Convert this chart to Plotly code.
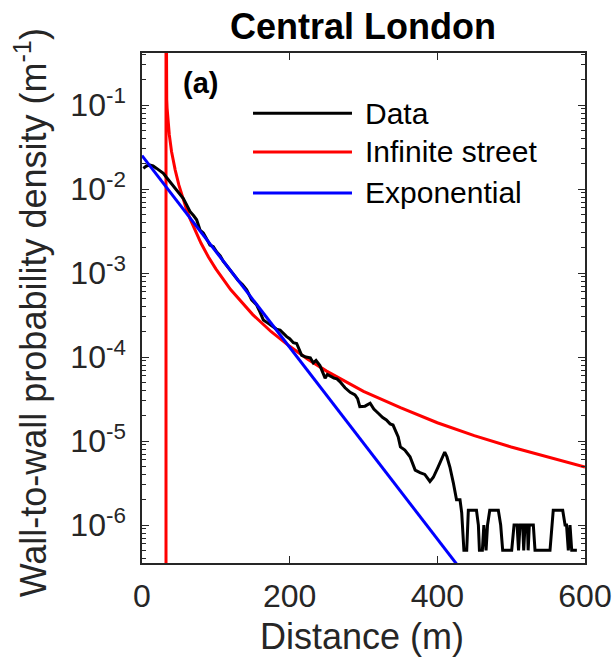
import plotly.graph_objects as go

# ---------------- data ----------------
data_d = [1.8, 6, 10.8, 15, 19.9, 24, 28.9, 33, 37.9, 42, 47, 51.5, 56, 60, 65, 70, 74,
          78.6, 83, 88, 92, 96.6, 101, 106, 110, 114, 119, 124, 130, 136, 141.8, 148.5,
          155, 160, 164.4, 170, 176, 182, 187, 191.4, 196, 200, 205, 209.5, 213, 216.3,
          222, 228, 232, 235.7, 241, 245, 248, 251, 254.6, 260, 264, 268, 275, 282,
          288.5, 292, 295, 302, 309, 314, 320, 326, 331, 336, 340, 344, 347, 350, 356,
          363, 370, 376.5, 383, 390, 394.6, 401, 408, 410, 413, 417, 421.6, 426, 430.7,
          433, 436, 439.8, 442, 453, 455.6, 457, 461, 463, 466, 468, 471, 482.6, 485.8,
          488.5, 500.7, 503.9, 508, 510, 512, 515.6, 517, 518.8, 522, 523, 524.6, 530,
          532.3, 552.6, 557, 569.8, 573, 575, 577.4, 579.7, 582, 589]
data_p = [0.0176, 0.0188, 0.0193, 0.0188, 0.0176, 0.0166, 0.0154, 0.0138, 0.0122, 0.0109,
          0.0097, 0.0087, 0.0077, 0.0066, 0.0054, 0.0048, 0.0043,
          0.00325, 0.0030, 0.00250, 0.00215, 0.00206, 0.00179, 0.00160, 0.00138, 0.00125,
          0.00109, 0.00096, 0.00082, 0.00073, 0.00063, 0.00048,
          0.00042, 0.00034, 0.000275, 0.000255, 0.000232, 0.000215, 0.000209, 0.00019,
          0.000175, 0.000165, 0.000148, 0.000145, 0.00012, 0.000105,
          0.0001, 0.000098, 0.000085, 0.000091, 0.000079, 0.000065, 0.000056, 0.000062,
          0.000059, 0.000056, 0.000055, 0.000051, 0.000043, 0.000038,
          3.55e-5, 3.2e-5, 2.57e-5, 2.6e-5, 2.82e-5, 2.4e-5, 2.14e-5, 1.9e-5, 1.78e-5,
          1.6e-5, 1.55e-5, 1.3e-5, 1.12e-5, 8.5e-6, 7.8e-6,
          6.5e-6, 4.5e-6, 4.2e-6, 4.0e-6, 3.3e-6, 3.7e-6, 4.9e-6, 7.0e-6, 7.4e-6, 6.5e-6,
          4.9e-6, 3.2e-6, 2.0e-6, 2.0e-6,
          1.4e-6, 5e-7, 5e-7, 1.5e-6, 1.5e-6, 1e-6, 5e-7, 5e-7, 1e-6, 5e-7, 1e-6, 1.5e-6,
          1.5e-6, 1e-6,
          5e-7, 5e-7, 1e-6, 1e-6, 5e-7, 1e-6, 1e-6, 5e-7, 1e-6, 1e-6, 5e-7, 1e-6, 1e-6,
          5e-7, 5e-7, 1.5e-6, 1.5e-6, 1e-6, 1e-6, 5e-7, 1e-6, 5e-7, 5e-7]

street_d = [32.5, 32.5, 32.6, 33, 33.5, 34, 35, 36, 37, 40, 42, 45, 50, 55, 60, 65, 70, 80,
            90, 100, 120, 150, 175, 200, 225, 250, 300, 350, 400, 450, 500, 550, 600]
street_p = [1e-9, 10.0, 0.39, 0.17, 0.116, 0.092, 0.066, 0.0526, 0.044, 0.028, 0.0225,
            0.0168, 0.0111, 0.00787, 0.0058, 0.00444, 0.0035, 0.00226, 0.00155, 0.00112,
            0.000635, 0.00032, 0.0002, 0.000134, 9.37e-5, 6.8e-5, 3.9e-5, 2.5e-5, 1.65e-5,
            1.16e-5, 8.5e-6, 6.4e-6, 4.9e-6]

expo_d = [0, 430]
expo_p = [0.025, 3.1e-7]

x_ticks = [0, 200, 400, 600]
y_ticks = [1e-6, 1e-5, 1e-4, 1e-3, 1e-2, 1e-1]
y_ticktext = ["10<sup>-6</sup>", "10<sup>-5</sup>", "10<sup>-4</sup>",
              "10<sup>-3</sup>", "10<sup>-2</sup>", "10<sup>-1</sup>"]

legend_names = ["Data", "Infinite street", "Exponential"]
legend_colors = ["#000000", "#FF0000", "#0000FF"]

# ---------------- figure ----------------
FONT = "Liberation Sans, Arial, Helvetica, sans-serif"
AX = "#262626"

fig = go.Figure()
fig.add_trace(go.Scatter(x=street_d, y=street_p, mode="lines",
                         line=dict(color=legend_colors[1], width=3), showlegend=False))
fig.add_trace(go.Scatter(x=data_d, y=data_p, mode="lines",
                         line=dict(color=legend_colors[0], width=3), showlegend=False))
fig.add_trace(go.Scatter(x=expo_d, y=expo_p, mode="lines",
                         line=dict(color=legend_colors[2], width=3), showlegend=False))

# manual legend (line samples + labels), positioned in paper coordinates
leg_y = [0.882, 0.806, 0.7255]
for name, col, yy in zip(legend_names, legend_colors, leg_y):
    fig.add_shape(type="line", xref="paper", yref="paper", x0=0.2506, x1=0.474,
                  y0=yy, y1=yy, line=dict(color=col, width=3))
    fig.add_annotation(xref="paper", yref="paper", x=0.499, y=yy, text=name,
                       showarrow=False, xanchor="left", yanchor="middle",
                       font=dict(family=FONT, size=30, color="#000000"))

fig.add_annotation(xref="paper", yref="paper", x=0.133, y=0.941, text="<b>(a)</b>",
                   showarrow=False, xanchor="center", yanchor="middle",
                   font=dict(family=FONT, size=29, color="#000000"))
fig.add_annotation(xref="paper", yref="paper", x=0.499, y=1.051, text="<b>Central London</b>",
                   showarrow=False, xanchor="center", yanchor="middle",
                   font=dict(family=FONT, size=36, color="#000000"))
fig.add_annotation(xref="paper", yref="paper", x=0.497, y=-0.145, text="Distance (m)",
                   showarrow=False, xanchor="center", yanchor="middle",
                   font=dict(family=FONT, size=36, color=AX))
fig.add_annotation(xref="paper", yref="paper", x=-0.25, y=0.49,
                   text="Wall-to-wall probability density (m<sup>-1</sup>)",
                   textangle=-90, showarrow=False, xanchor="center", yanchor="middle",
                   font=dict(family=FONT, size=36, color=AX))

fig.update_xaxes(range=[0, 600], tickvals=x_ticks, ticks="inside", ticklen=7, tickwidth=1.3,
                 tickcolor=AX, showline=True, linecolor=AX, linewidth=1.5, mirror="ticks",
                 showgrid=False, zeroline=False, ticklabelstandoff=4, automargin=False,
                 tickfont=dict(family=FONT, size=32, color=AX))
fig.update_yaxes(type="log", range=[-6.452, -0.381], tickvals=y_ticks, ticktext=y_ticktext,
                 ticks="inside", ticklen=7, tickwidth=1.3, tickcolor=AX,
                 showline=True, linecolor=AX, linewidth=1.5, mirror="ticks",
                 showgrid=False, zeroline=False, ticklabelstandoff=8, automargin=False,
                 minor=dict(ticks="inside", ticklen=4, tickcolor=AX, tickwidth=1,
                            dtick="D1", showgrid=False),
                 tickfont=dict(family=FONT, size=32, color=AX))

fig.update_layout(width=616, height=661, margin=dict(l=142, r=31, t=53, b=98),
                  paper_bgcolor="white", plot_bgcolor="white", showlegend=False,
                  font=dict(family=FONT, color=AX))

fig.write_html("out.html")
